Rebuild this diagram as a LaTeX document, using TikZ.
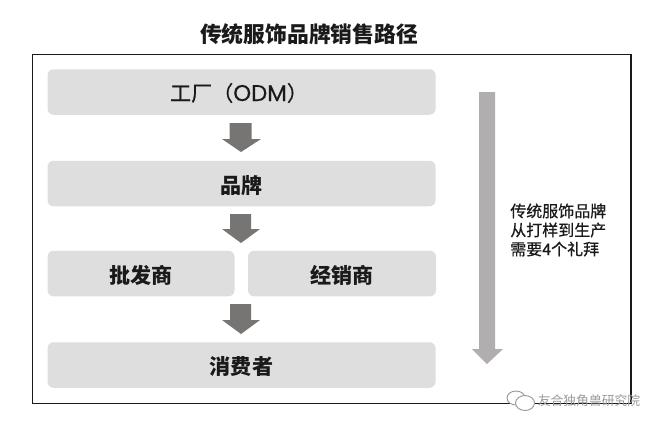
\documentclass[tikz,border=0pt]{standalone}
\usepackage{fontspec}
\setmainfont{Noto Sans CJK SC}
\newfontfamily\latinf{Poppins}[FakeBold=0.5,Scale=1.08]
\newfontfamily\midcjk{Noto Sans CJK SC}[FakeBold=0.5]
\definecolor{boxgray}{HTML}{DEDEDE}
\definecolor{arrowgray}{HTML}{777474}
\definecolor{bigarrow}{HTML}{B0AEAE}
\definecolor{inkc}{HTML}{1A1A1A}
\definecolor{markgray}{HTML}{9A9A9A}
\newcommand{\lowered}[1]{\raisebox{-1.4pt}[\height][\depth]{#1}}
\tikzset{
  x=0.75pt,y=-0.75pt,
  stagebox/.style={fill=boxgray,rounded corners=4.5pt,inner sep=0,font=\fontsize{15.8pt}{18pt}\selectfont\bfseries,text=inkc},
  flowarrow/.style={fill=arrowgray,draw=none},
  bubble/.style={draw=markgray,fill=white,line width=0.7pt},
}
\begin{document}
\begin{tikzpicture}
\useasboundingbox (0,0) rectangle (660,430);
\fill[white] (0,0) rectangle (660,430);
\node[font=\fontsize{16.35pt}{19pt}\selectfont\bfseries,text=inkc] (title) at (309,34) {传统服饰品牌销售路径};
\draw[inkc,line width=0.8pt] (32.5,54.5) rectangle (631,403.5);
\node[stagebox,minimum width=388*0.75pt,minimum height=45.5*0.75pt] (factory) at (241.5,92) {};
\node[font=\fontsize{15.8pt}{18pt}\selectfont,text=inkc] (factorylabel) at (239,93) {\midcjk 工厂（{\latinf ODM}）};
\node[stagebox,minimum width=388*0.75pt,minimum height=45.5*0.75pt] (brand) at (241.5,183.5) {\lowered{品牌}};
\node[stagebox,minimum width=187*0.75pt,minimum height=45.5*0.75pt] (wholesale) at (141,273.5) {\lowered{批发商}};
\node[stagebox,minimum width=188*0.75pt,minimum height=45.5*0.75pt] (dealer) at (342,273.5) {\lowered{经销商}};
\node[stagebox,minimum width=388*0.75pt,minimum height=45.5*0.75pt] (consumer) at (241.5,365) {\lowered{消费者}};
\fill[flowarrow] (229.5,123) -- (251.5,123) -- (251.5,139) -- (261,139) -- (241,152) -- (222,139) -- (229.5,139) -- cycle;
\fill[flowarrow] (230,214) -- (251,214) -- (251,229) -- (260,229) -- (241,243) -- (222,229) -- (230,229) -- cycle;
\fill[flowarrow] (230,304) -- (251,304) -- (251,320) -- (260,320) -- (241,334) -- (222,320) -- (230,320) -- cycle;
\fill[bigarrow] (479,92) -- (495,92) -- (495,349) -- (503,349) -- (487,364) -- (472,349) -- (479,349) -- cycle;
\node[font=\fontsize{12pt}{14.3pt}\selectfont,text=inkc,align=left,anchor=west,inner sep=0] (note) at (510,230) {\midcjk 传统服饰品牌\\\midcjk 从打样到生产\\\midcjk 需要4个礼拜};
\draw[bubble] (516,398) ellipse (9 and 7);
\draw[bubble] (525,403) ellipse (9.5 and 7.5);
\node[font=\fontsize{9.6pt}{11pt}\selectfont,text=markgray,inner sep=0] (watermark) at (589,401) {友合独角兽研究院};
\end{tikzpicture}
\end{document}
